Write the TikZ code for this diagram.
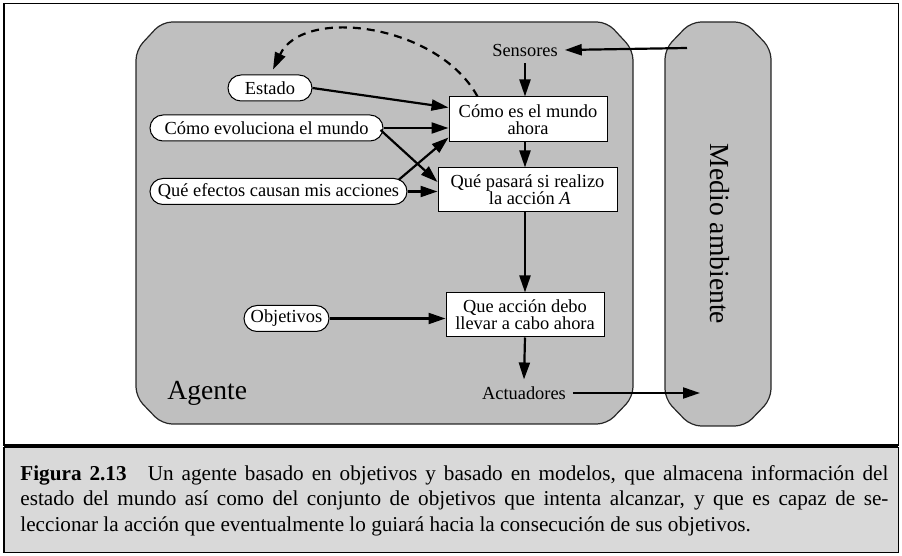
\documentclass[tikz,border=0pt]{standalone}
\usepackage{fontspec}
\setmainfont{Liberation Serif}
\usetikzlibrary{positioning, arrows.meta, calc}

\newcommand{\diagfont}{\fontsize{9.2}{8.4}\selectfont}
\newcommand{\bigfont}{\fontsize{13.8}{16}\selectfont}
\newcommand{\capfont}{\fontsize{10.6}{12.75}\selectfont}

\begin{document}
\begin{tikzpicture}[
        x=0.5pt, y=-0.5pt,
        >={Triangle[length=8.5pt, width=5.5pt]},
        % Styles
        agentshape/.style={draw=black!85, line width=0.6pt, rounded corners=5pt, fill=gray!50},
        pillbox/.style={rectangle, draw, line width=0.5pt, fill=white, rounded corners=6.5pt,
                minimum height=13pt, inner xsep=1pt, inner ysep=0pt, font=\diagfont},
        textbox/.style={rectangle, draw, line width=0.5pt, fill=white, align=center,
                inner sep=1pt, font=\diagfont},
        plainlab/.style={font=\diagfont},
        biglab/.style={font=\bigfont, inner sep=0pt},
        captext/.style={text width=434pt, align=justify, inner sep=0pt, font=\capfont},
        arrow/.style={->, line width=1.1pt},
        dasharrow/.style={->, line width=1.1pt, dash pattern=on 4pt off 3pt}, ]

        \useasboundingbox (0,0) rectangle (902,556);

        % === FRAME ===
        \draw[line width=0.5pt] (4,4) rectangle (898,446);
        \draw[line width=0.5pt, fill=gray!30] (4,448) rectangle (898,553);
        \draw[line width=2pt] (4,446) -- (898,446);

        % === AGENT AND ENVIRONMENT ===
        \draw[agentshape] (136,50) -- (162,22) -- (607,22) -- (633,50) -- (633,397)
            -- (607,424) -- (162,424) -- (136,397) -- cycle;
        \draw[agentshape] (665,49) -- (691,22) -- (745,22) -- (771,49) -- (771,399)
            -- (745,426) -- (691,426) -- (665,399) -- cycle;
        \node[biglab, rotate=-90] (medio) at (720,234) {Medio ambiente};
        \node[biglab, anchor=base west] (agente) at (167,400) {Agente};

        % === INSIDE THE AGENT ===
        \node[plainlab] (sensores) at (525,50) {Sensores};
        \node[plainlab] (actuadores) at (524,393) {Actuadores};

        \node[textbox, minimum width=79pt, minimum height=22.5pt] (mundo) at (528,119.5)
            {Cómo es el mundo\\ahora};
        \node[textbox, minimum width=89.5pt, minimum height=22pt] (pasara) at (527.5,190)
            {Qué pasará si realizo\\\ la acción \textit{A}};
        \node[textbox, minimum width=79pt, minimum height=22pt] (accion) at (525,315)
            {Que acción debo\\llevar a cabo ahora};

        \node[pillbox, minimum width=42pt] (estado) at (270,88) {Estado};
        \node[pillbox, minimum width=116.5pt] (evoluciona) at (266.5,128) {Cómo evoluciona el mundo};
        \node[pillbox, minimum width=128.5pt] (efectos) at (278.5,191.5) {Qué efectos causan mis acciones};
        \node[pillbox, minimum width=42.5pt] (objetivos) at (286.5,318.5) {Objetivos};

        \coordinate (senin) at (687,48);
        \coordinate (actout) at (700,393);

        % Connections
        \draw[arrow] (senin) -- (sensores.east);
        \draw[arrow] (sensores.south) -- (sensores |- mundo.north);
        \draw[arrow] (mundo.south -| sensores) -- (pasara.north -| sensores);
        \draw[arrow] (pasara.south -| sensores) -- (accion.north -| sensores);
        \draw[arrow] (accion.south -| sensores) -- (actuadores.north);
        \draw[arrow] (actuadores.east) -- (actout);

        \draw[arrow] (estado.east) -- ($(mundo.west)+(0,-12)$);
        \draw[arrow] (evoluciona.east) -- (evoluciona -| mundo.west);
        \draw[arrow] ($(evoluciona.east)+(-3,2)$) -- ($(pasara.west)+(0,-8)$);
        \draw[arrow] ($(efectos.north east)+(-9,2)$) -- ($(mundo.west)+(0,18)$);
        \draw[arrow] (efectos.east) -- (efectos -| pasara.west);
        \draw[arrow] (objetivos.east) -- (objetivos -| accion.west);

        % State update (dashed)
        \draw[dasharrow] ($(mundo.north west)+(29,0)$) .. controls (438,24) and (303,6) .. ($(estado.north)+(3,-5)$);

        % === CAPTION ===
        \node[captext, anchor=north west] (caption) at (20,465)
            {\textbf{Figura 2.13}\quad Un agente basado en objetivos y basado en modelos, que almacena información del\linebreak
            estado del mundo así como del conjunto de objetivos que intenta alcanzar, y que es capaz de se-\linebreak
            leccionar la acción que eventualmente lo guiará hacia la consecución de sus objetivos.};

    \end{tikzpicture}
\end{document}
